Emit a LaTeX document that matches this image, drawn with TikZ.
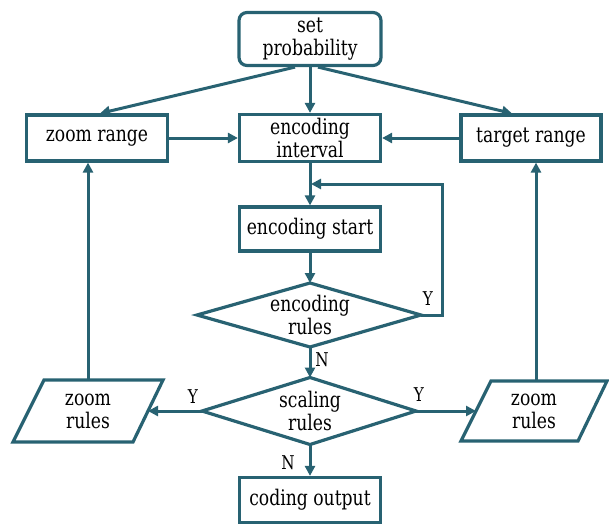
\documentclass[tikz,border=0pt]{standalone}
\usepackage{fontspec}
\setmainfont{DejaVu Serif}[FakeStretch=0.8]
\usetikzlibrary{shapes.geometric,arrows.meta,calc}
\definecolor{teal}{RGB}{40,98,114}
\begin{document}
\begin{tikzpicture}[x=1pt,y=-1pt,
  every node/.style={font=\fontsize{21.5}{23}\selectfont, align=center},
  box/.style={draw=teal, line width=3.2pt, inner sep=0pt},
  plain/.style={inner sep=0pt},
  con/.style={draw=teal, line width=3pt, -{Triangle[length=10pt,width=10pt]}},
  lin/.style={draw=teal, line width=3.2pt, line join=miter},
  lab/.style={inner sep=0pt, font=\fontsize{19}{21}\selectfont}]
\useasboundingbox (0,0) rectangle (609,524);

\node[box, rounded corners=8pt, minimum width=142pt, minimum height=53pt] (sp) at (310,39) {set\\probability};
\node[box, minimum width=141pt, minimum height=47pt] (ei) at (310,138) {encoding\\interval};
\node[box, minimum width=141pt, minimum height=46pt] (zr) at (97,138) {zoom range};
\node[box, minimum width=140pt, minimum height=46pt] (tr) at (531,138) {target range};
\node[box, minimum width=141pt, minimum height=44pt] (es) at (310,229) {encoding start};
\node[plain] (er) at (310,315) {encoding\\rules};
\node[plain] (sr) at (310,411) {scaling\\rules};
\node[box, minimum width=141pt, minimum height=45pt] (co) at (310,500) {coding output};
\node[plain] (zl) at (88,411) {zoom\\rules};
\node[plain] (zrr) at (534,411) {zoom\\rules};

% diamonds
\coordinate (erW) at ($(er)+(-113,0)$);
\coordinate (erE) at ($(er)+(111,0)$);
\coordinate (erN) at ($(er)+(0,-32)$);
\coordinate (erS) at ($(er)+(0,32)$);
\draw[lin] (erW) -- (erN) -- (erE) -- (erS) -- cycle;
\coordinate (srW) at ($(sr)+(-108,0)$);
\coordinate (srE) at ($(sr)+(106,0)$);
\coordinate (srN) at ($(sr)+(0,-33.5)$);
\coordinate (srS) at ($(sr)+(0,33.5)$);
\draw[lin] (srW) -- (srN) -- (srE) -- (srS) -- cycle;

% parallelograms
\draw[lin] ($(zl)+(-44,-31)$) -- ($(zl)+(75,-31)$) -- ($(zl)+(45,31)$) -- ($(zl)+(-75,31)$) -- cycle;
\draw[lin] ($(zrr)+(-43,-30)$) -- ($(zrr)+(73,-30)$) -- ($(zrr)+(44,30)$) -- ($(zrr)+(-73,30)$) -- cycle;
\coordinate (zlR) at ($(zl)+(60,0)$);
\coordinate (zlT) at ($(zl)+(0,-31)$);
\coordinate (zrL) at ($(zrr)+(-58,0)$);
\coordinate (zrT) at ($(zrr)+(2,-30)$);

% connectors
\draw[con] ([xshift=-15pt]sp.south) -- ([xshift=3pt]zr.north);
\draw[con] ([xshift=8pt]sp.south) -- ([xshift=-19pt]tr.north);
\draw[con] (sp.south) -- (ei.north);
\draw[con] (zr.east) -- (ei.west);
\draw[con] (tr.west) -- (ei.east);
\draw[con] (ei.south) -- (es.north);
\draw[con] (es.south) -- (erN);
\coordinate (lp) at (442,184);
\coordinate (lj) at (311,184);
\draw[con] (erE) -| (lp) -- (lj);
\draw[con] (erS) -- (srN);
\draw[con] (srW) -- (zlR);
\draw[con] (srE) -- (zrL);
\draw[con] (srS) -- (co.north);
\draw[con] (zlT) -- (zr.south -| zlT);
\draw[con] (zrT) -- (tr.south -| zrT);

% labels
\node[lab] (ly1) at (428,299) {Y};
\node[lab] (ln1) at (322,360) {N};
\node[lab] (ly2) at (193,397) {Y};
\node[lab] (ly3) at (419,395) {Y};
\node[lab] (ln2) at (288,463) {N};
\end{tikzpicture}
\end{document}
